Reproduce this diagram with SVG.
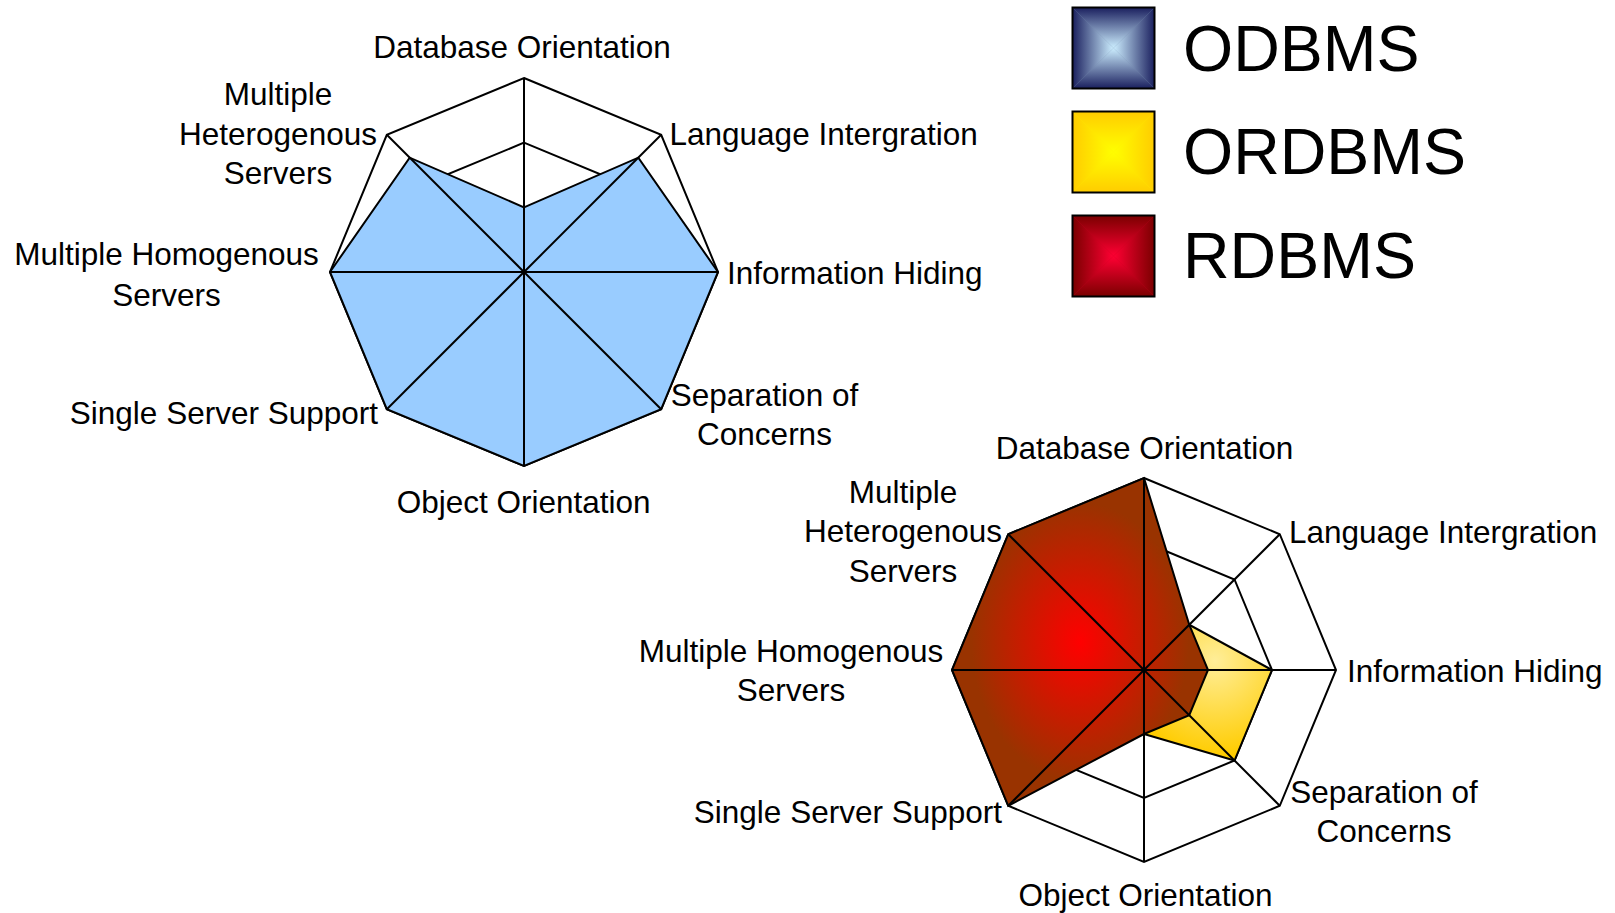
<svg xmlns="http://www.w3.org/2000/svg" width="1615" height="913" viewBox="0 0 1615 913">
<style>
.ring{fill:none;stroke:#000;stroke-width:2;stroke-linejoin:miter}
.spoke{stroke:#000;stroke-width:2}
.series{stroke:#000;stroke-width:2;stroke-linejoin:miter}
.lbl{font-family:"Liberation Sans",Arial,sans-serif;font-size:31.5px;fill:#000}
.mid{text-anchor:middle}
.end{text-anchor:end}
.leg{font-family:"Liberation Sans",Arial,sans-serif;font-size:64.5px;fill:#000}
.box{fill:none;stroke:#000;stroke-width:2}
</style>
<defs>
<radialGradient id="gRed" cx="0.5" cy="0.5" r="0.5">
<stop offset="0" stop-color="#FF0000"/>
<stop offset="0.85" stop-color="#993300"/>
<stop offset="1" stop-color="#993300"/>
</radialGradient>
<radialGradient id="gYel" gradientUnits="userSpaceOnUse" cx="1215" cy="661" r="95">
<stop offset="0" stop-color="#FFEE99"/>
<stop offset="1" stop-color="#FFCC00"/>
</radialGradient>
<linearGradient id="bT" x1="0" y1="0" x2="0" y2="1"><stop offset="0" stop-color="#1A1F5E"/><stop offset="1" stop-color="#CCEEFF"/></linearGradient>
<linearGradient id="bB" x1="0" y1="1" x2="0" y2="0"><stop offset="0" stop-color="#1A1F5E"/><stop offset="1" stop-color="#CCEEFF"/></linearGradient>
<linearGradient id="bL" x1="0" y1="0" x2="1" y2="0"><stop offset="0" stop-color="#1A1F5E"/><stop offset="1" stop-color="#CCEEFF"/></linearGradient>
<linearGradient id="bR" x1="1" y1="0" x2="0" y2="0"><stop offset="0" stop-color="#1A1F5E"/><stop offset="1" stop-color="#CCEEFF"/></linearGradient>
<linearGradient id="yT" x1="0" y1="0" x2="0" y2="1"><stop offset="0" stop-color="#FFCC00"/><stop offset="1" stop-color="#FFFF00"/></linearGradient>
<linearGradient id="yB" x1="0" y1="1" x2="0" y2="0"><stop offset="0" stop-color="#FFCC00"/><stop offset="1" stop-color="#FFFF00"/></linearGradient>
<linearGradient id="yL" x1="0" y1="0" x2="1" y2="0"><stop offset="0" stop-color="#FFCC00"/><stop offset="1" stop-color="#FFFF00"/></linearGradient>
<linearGradient id="yR" x1="1" y1="0" x2="0" y2="0"><stop offset="0" stop-color="#FFCC00"/><stop offset="1" stop-color="#FFFF00"/></linearGradient>
<linearGradient id="rT" x1="0" y1="0" x2="0" y2="1"><stop offset="0" stop-color="#7A0000"/><stop offset="1" stop-color="#FF0033"/></linearGradient>
<linearGradient id="rB" x1="0" y1="1" x2="0" y2="0"><stop offset="0" stop-color="#7A0000"/><stop offset="1" stop-color="#FF0033"/></linearGradient>
<linearGradient id="rL" x1="0" y1="0" x2="1" y2="0"><stop offset="0" stop-color="#7A0000"/><stop offset="1" stop-color="#FF0033"/></linearGradient>
<linearGradient id="rR" x1="1" y1="0" x2="0" y2="0"><stop offset="0" stop-color="#7A0000"/><stop offset="1" stop-color="#FF0033"/></linearGradient>
</defs>
<rect width="1615" height="913" fill="#fff"/>

<g id="chart-odbms">
<polygon class="ring" points="524,207.33 569.73,226.27 588.67,272 569.73,317.73 524,336.67 478.27,317.73 459.33,272 478.27,226.27"/>
<polygon class="ring" points="524,142.67 615.45,180.55 653.33,272 615.45,363.45 524,401.33 432.55,363.45 394.67,272 432.55,180.55"/>
<polygon class="ring" points="524,78 661.18,134.82 718,272 661.18,409.18 524,466 386.82,409.18 330,272 386.82,134.82"/>
<polygon id="series-odbms" class="series" fill="#99CCFF" points="524,207.33 638.32,157.68 718,272 661.18,409.18 524,466 386.82,409.18 330,272 409.68,157.68"/>
<g id="connectors-odbms">
<line class="spoke" x1="524" y1="272" x2="524" y2="78"/>
<line class="spoke" x1="524" y1="272" x2="661.18" y2="134.82"/>
<line class="spoke" x1="524" y1="272" x2="718" y2="272"/>
<line class="spoke" x1="524" y1="272" x2="661.18" y2="409.18"/>
<line class="spoke" x1="524" y1="272" x2="524" y2="466"/>
<line class="spoke" x1="524" y1="272" x2="386.82" y2="409.18"/>
<line class="spoke" x1="524" y1="272" x2="330" y2="272"/>
<line class="spoke" x1="524" y1="272" x2="386.82" y2="134.82"/>
</g>
<g id="labels-odbms">
<text class="lbl mid" x="522" y="58">Database Orientation</text>
<text class="lbl" x="669.5" y="144.5">Language Intergration</text>
<text class="lbl" x="727" y="283.5">Information Hiding</text>
<text class="lbl mid" x="764.5" y="406">Separation of</text>
<text class="lbl mid" x="764.5" y="445">Concerns</text>
<text class="lbl mid" x="523.7" y="512.7">Object Orientation</text>
<text class="lbl end" x="378" y="423.5">Single Server Support</text>
<text class="lbl mid" x="166.5" y="265">Multiple Homogenous</text>
<text class="lbl mid" x="166.5" y="306">Servers</text>
<text class="lbl mid" x="278" y="105">Multiple</text>
<text class="lbl mid" x="278" y="144.5">Heterogenous</text>
<text class="lbl mid" x="278" y="184">Servers</text>
</g>
</g>

<g id="chart-ordbms-rdbms">
<polygon class="ring" points="1144,606 1189.25,624.75 1208,670 1189.25,715.25 1144,734 1098.75,715.25 1080,670 1098.75,624.75"/>
<polygon class="ring" points="1144,542 1234.51,579.49 1272,670 1234.51,760.51 1144,798 1053.49,760.51 1016,670 1053.49,579.49"/>
<polygon class="ring" points="1144,478 1279.76,534.24 1336,670 1279.76,805.76 1144,862 1008.24,805.76 952,670 1008.24,534.24"/>
<polygon id="series-ordbms" class="series" fill="url(#gYel)" points="1144,606 1189.25,624.75 1272,670 1234.51,760.51 1144,734 1098.75,715.25 1080,670 1098.75,624.75"/>
<polygon id="series-rdbms" class="series" fill="url(#gRed)" points="1144,478 1189.25,624.75 1208,670 1189.25,715.25 1144,734 1008.24,805.76 952,670 1008.24,534.24"/>
<g id="connectors-chart2">
<line class="spoke" x1="1144" y1="670" x2="1144" y2="478"/>
<line class="spoke" x1="1144" y1="670" x2="1279.76" y2="534.24"/>
<line class="spoke" x1="1144" y1="670" x2="1336" y2="670"/>
<line class="spoke" x1="1144" y1="670" x2="1279.76" y2="805.76"/>
<line class="spoke" x1="1144" y1="670" x2="1144" y2="862"/>
<line class="spoke" x1="1144" y1="670" x2="1008.24" y2="805.76"/>
<line class="spoke" x1="1144" y1="670" x2="952" y2="670"/>
<line class="spoke" x1="1144" y1="670" x2="1008.24" y2="534.24"/>
</g>
<g id="labels-chart2">
<text class="lbl mid" x="1144.5" y="458.5">Database Orientation</text>
<text class="lbl" x="1289" y="543">Language Intergration</text>
<text class="lbl" x="1347" y="682">Information Hiding</text>
<text class="lbl mid" x="1384" y="803">Separation of</text>
<text class="lbl mid" x="1384" y="842">Concerns</text>
<text class="lbl mid" x="1145.5" y="906">Object Orientation</text>
<text class="lbl end" x="1002" y="823">Single Server Support</text>
<text class="lbl mid" x="791" y="662">Multiple Homogenous</text>
<text class="lbl mid" x="791" y="700.5">Servers</text>
<text class="lbl mid" x="903" y="503">Multiple</text>
<text class="lbl mid" x="903" y="542">Heterogenous</text>
<text class="lbl mid" x="903" y="582">Servers</text>
</g>
</g>

<g id="legend-odbms">
<rect x="1072.5" y="7.5" width="82" height="81" fill="#6F86A8"/>
<polygon fill="url(#bT)" points="1072.5,7.5 1154.5,7.5 1113.5,48"/>
<polygon fill="url(#bB)" points="1072.5,88.5 1154.5,88.5 1113.5,48"/>
<polygon fill="url(#bL)" points="1072.5,7.5 1072.5,88.5 1113.5,48"/>
<polygon fill="url(#bR)" points="1154.5,7.5 1154.5,88.5 1113.5,48"/>
<rect class="box" x="1072.5" y="7.5" width="82" height="81"/>
<text class="leg" x="1183" y="70.7">ODBMS</text>
</g>
<g id="legend-ordbms">
<rect x="1072.5" y="111.5" width="82" height="81" fill="#FFE600"/>
<polygon fill="url(#yT)" points="1072.5,111.5 1154.5,111.5 1113.5,152"/>
<polygon fill="url(#yB)" points="1072.5,192.5 1154.5,192.5 1113.5,152"/>
<polygon fill="url(#yL)" points="1072.5,111.5 1072.5,192.5 1113.5,152"/>
<polygon fill="url(#yR)" points="1154.5,111.5 1154.5,192.5 1113.5,152"/>
<rect class="box" x="1072.5" y="111.5" width="82" height="81"/>
<text class="leg" x="1183" y="174.3">ORDBMS</text>
</g>
<g id="legend-rdbms">
<rect x="1072.5" y="215.5" width="82" height="81" fill="#BC001A"/>
<polygon fill="url(#rT)" points="1072.5,215.5 1154.5,215.5 1113.5,256"/>
<polygon fill="url(#rB)" points="1072.5,296.5 1154.5,296.5 1113.5,256"/>
<polygon fill="url(#rL)" points="1072.5,215.5 1072.5,296.5 1113.5,256"/>
<polygon fill="url(#rR)" points="1154.5,215.5 1154.5,296.5 1113.5,256"/>
<rect class="box" x="1072.5" y="215.5" width="82" height="81"/>
<text class="leg" x="1183" y="278.3">RDBMS</text>
</g>
</svg>
